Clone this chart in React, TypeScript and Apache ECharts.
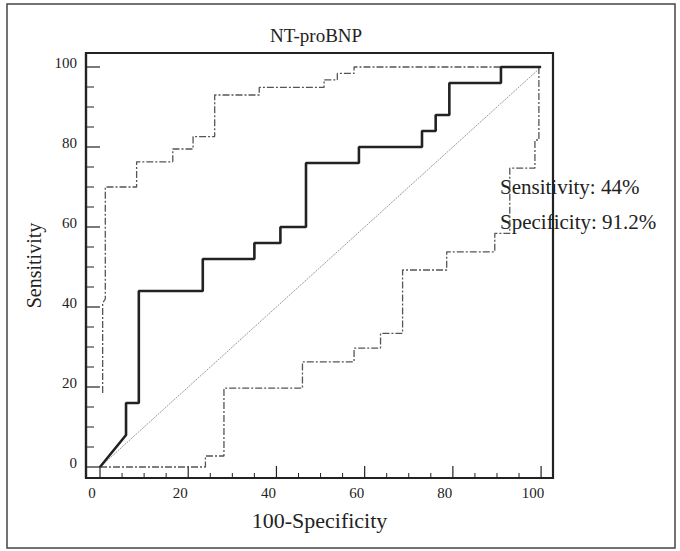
import React, { useEffect, useRef } from "react";
import * as echarts from "echarts";

// Main ROC curve vertices (100-Specificity, Sensitivity)
const rocFpr = [0, 5.9, 5.9, 8.8, 8.8, 23.3, 23.3, 35, 35, 40.9, 40.9, 46.7, 46.7, 58.7, 58.7, 73, 73, 76.1, 76.1, 79.2, 79.2, 90.9, 90.9, 100];
const rocSens = [0, 8, 16, 16, 44, 44, 52, 52, 56, 56, 60, 60, 76, 76, 80, 80, 84, 84, 88, 88, 96, 96, 100, 100];

// Upper confidence bound
const upFpr = [0.6, 0.6, 1.2, 1.2, 8.3, 8.3, 16.5, 16.5, 21.1, 21.1, 26, 26, 36.1, 36.1, 50.8, 50.8, 53.8, 53.8, 57.6, 57.6, 100];
const upSens = [18.5, 41, 42, 70, 70, 76.3, 76.3, 79.5, 79.5, 82.6, 82.6, 93, 93, 94.9, 94.9, 96.8, 96.8, 98.4, 98.4, 100, 100];

// Lower confidence bound
const loFpr = [0, 23.9, 23.9, 28.1, 28.1, 45.9, 45.9, 57.6, 57.6, 63.6, 63.6, 68.6, 68.6, 78.6, 78.6, 89.5, 89.5, 92.9, 92.9, 98.6, 98.6, 99.5, 99.5];
const loSens = [0, 0, 2.75, 2.75, 19.7, 19.7, 26.3, 26.3, 29.7, 29.7, 33.4, 33.4, 49.25, 49.25, 53.8, 53.8, 58.4, 58.4, 74.7, 74.7, 81.75, 81.75, 100];

// Reference diagonal
const diagFpr = [0, 100];
const diagSens = [0, 100];

// Tick values
const majorTicks = [0, 20, 40, 60, 80, 100];
const minorTicks = [5, 10, 15, 25, 30, 35, 45, 50, 55, 65, 70, 75, 85, 90, 95];

const titleText = "NT-proBNP";
const xName = "100-Specificity";
const yName = "Sensitivity";
const noteLines = ["Sensitivity: 44%", "Specificity: 91.2%"];

const zip = (a: number[], b: number[]) => a.map((v, i) => [v, b[i]]);

const FONT = "'Liberation Serif', 'Times New Roman', serif";

const X_MIN = -3.175;
const X_MAX = 102.7;
const Y_MIN = -2.75;
const Y_MAX = 103.5;
// pixels per data unit of the plot (467px / x range, 425px / y range)
const X_PX = 467 / (X_MAX - X_MIN);
const Y_PX = 425 / (Y_MAX - Y_MIN);

const AXIS_COLOR = "#222";

const tickSeg = (data: number[][], w: number) => ({
  type: "line",
  data,
  showSymbol: false,
  silent: true,
  clip: false,
  z: 3,
  lineStyle: { color: AXIS_COLOR, width: w },
});

export default function App() {
  const ref = useRef<HTMLDivElement>(null);
  useEffect(() => {
    if (!ref.current) return;
    const chart = echarts.init(ref.current, undefined, { renderer: "svg" });
    const ciStyle = { color: "#555", width: 1.3, type: [7, 2, 2, 2] as any };
    const tickSeries = [
      ...majorTicks.map((v) => tickSeg([[v, Y_MIN], [v, Y_MIN + 12 / Y_PX]], 1.2)),
      ...minorTicks.map((v) => tickSeg([[v, Y_MIN], [v, Y_MIN + 5 / Y_PX]], 1)),
      ...majorTicks.map((v) => tickSeg([[X_MIN, v], [X_MIN + 14 / X_PX, v]], 1.2)),
      ...minorTicks.map((v) => tickSeg([[X_MIN, v], [X_MIN + 8 / X_PX, v]], 1)),
    ];
    chart.setOption({
      animation: false,
      backgroundColor: "#fff",
      grid: { left: 86, top: 53, right: 127, bottom: 73 },
      xAxis: {
        type: "value",
        min: X_MIN,
        max: X_MAX,
        name: xName,
        nameLocation: "middle",
        nameGap: 31,
        nameTextStyle: { fontFamily: FONT, fontSize: 22, color: AXIS_COLOR },
        axisLine: { show: true, onZero: false, lineStyle: { color: AXIS_COLOR, width: 2.2 } },
        axisTick: { show: false },
        axisLabel: { fontFamily: FONT, fontSize: 15, color: AXIS_COLOR, margin: 7, customValues: majorTicks, padding: [0, 16, 0, 0] },
        splitLine: { show: false },
      },
      yAxis: {
        type: "value",
        min: Y_MIN,
        max: Y_MAX,
        name: yName,
        nameLocation: "middle",
        nameGap: 39,
        nameTextStyle: { fontFamily: FONT, fontSize: 20, color: AXIS_COLOR },
        axisLine: { show: true, onZero: false, lineStyle: { color: AXIS_COLOR, width: 2.2 } },
        axisTick: { show: false },
        axisLabel: {
          color: AXIS_COLOR,
          margin: 9,
          customValues: majorTicks,
          formatter: "{a|{value}}",
          rich: { a: { fontFamily: FONT, fontSize: 15, color: AXIS_COLOR, padding: [0, 0, 8, 0] } },
        },
        splitLine: { show: false },
      },
      graphic: [
        {
          type: "rect",
          shape: { x: 7, y: 4, width: 668, height: 544 },
          style: { fill: "none", stroke: "#444", lineWidth: 1.5 },
          silent: true,
        },
        {
          type: "rect",
          shape: { x: 86, y: 53, width: 467, height: 425 },
          style: { fill: "none", stroke: AXIS_COLOR, lineWidth: 2.2 },
          silent: true,
        },
        {
          type: "text",
          x: 316,
          y: 35,
          style: { text: titleText, font: `19px ${FONT}`, fill: AXIS_COLOR, align: "center", verticalAlign: "middle" },
        },
        {
          type: "text",
          x: 500,
          y: 187,
          style: { text: noteLines[0], font: `21px ${FONT}`, fill: AXIS_COLOR, align: "left", verticalAlign: "middle" },
        },
        {
          type: "text",
          x: 500,
          y: 222,
          style: { text: noteLines[1], font: `21px ${FONT}`, fill: AXIS_COLOR, align: "left", verticalAlign: "middle" },
        },
      ],
      series: [
        ...tickSeries,
        {
          type: "line",
          data: zip(diagFpr, diagSens),
          showSymbol: false,
          lineStyle: { color: "#999", width: 1, type: [2, 1] },
        },
        {
          type: "line",
          data: zip(upFpr, upSens),
          showSymbol: false,
          lineStyle: ciStyle,
        },
        {
          type: "line",
          data: zip(loFpr, loSens),
          showSymbol: false,
          lineStyle: ciStyle,
        },
        {
          type: "line",
          data: zip(rocFpr, rocSens),
          showSymbol: false,
          lineStyle: { color: AXIS_COLOR, width: 2.6 },
        },
      ],
    });
    return () => chart.dispose();
  }, []);
  return <div ref={ref} style={{ position: "absolute", left: 0, top: 0, width: 680, height: 551 }} />;
}
